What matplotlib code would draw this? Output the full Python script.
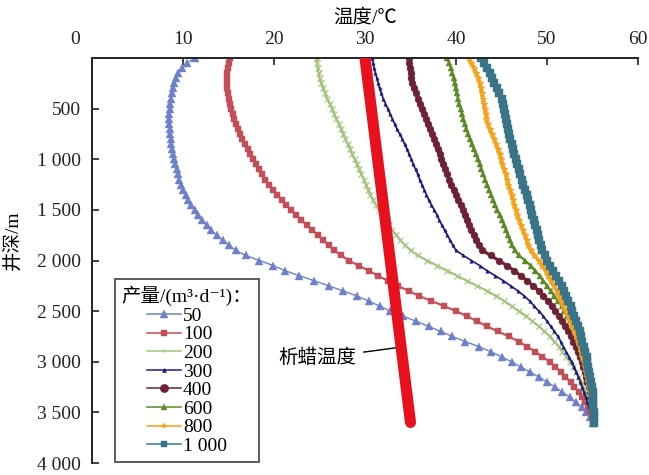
import matplotlib
matplotlib.use("Agg")
import matplotlib.pyplot as plt
from matplotlib.transforms import ScaledTranslation
from matplotlib.ticker import FuncFormatter
from matplotlib.lines import Line2D

plt.rcParams['font.family'] = ['Liberation Serif', 'Noto Sans CJK SC', 'DejaVu Sans']

depth = [0, 50, 100, 150, 200, 250, 300, 350, 400, 450, 500, 550, 600, 650, 700, 750,
         800, 850, 900, 950, 1000, 1050, 1100, 1150, 1200, 1250, 1300, 1350, 1400, 1450,
         1500, 1550, 1600, 1650, 1700, 1750, 1800, 1850, 1900, 1950, 2000, 2050, 2100,
         2150, 2200, 2250, 2300, 2350, 2400, 2450, 2500, 2550, 2600, 2650, 2700, 2750,
         2800, 2850, 2900, 2950, 3000, 3050, 3100, 3150, 3200, 3250, 3300, 3350, 3400,
         3450, 3500, 3550, 3600]

t50 = [11.3, 10.4, 9.9, 9.5, 9.2, 9.0, 8.85, 8.75, 8.65, 8.6, 8.55, 8.5, 8.5, 8.5, 8.55,
       8.6, 8.65, 8.7, 8.8, 8.9, 9.0, 9.1, 9.3, 9.45, 9.6, 9.8, 10.05, 10.3, 10.6, 10.9,
       11.3, 11.7, 12.1, 12.6, 13.1, 13.7, 14.4, 15.1, 15.8, 16.9, 18.4, 19.9, 21.2, 22.8,
       24.4, 26.0, 27.6, 29.1, 30.4, 31.6, 32.8, 34.2, 35.6, 37.0, 38.3, 39.6, 41.0, 42.5,
       43.8, 45.0, 46.1, 47.1, 48.1, 49.1, 50.0, 50.9, 51.7, 52.5, 53.2, 53.8, 54.3, 54.7,
       55.1]
t100 = [15.2, 15.0, 14.9, 14.8, 14.8, 14.8, 14.85, 14.9, 15.0, 15.15, 15.3, 15.45, 15.6,
        15.8, 16.0, 16.25, 16.5, 16.8, 17.1, 17.4, 17.7, 18.0, 18.35, 18.7, 19.05, 19.45,
        19.9, 20.35, 20.85, 21.35, 21.9, 22.45, 23.0, 23.6, 24.2, 24.8, 25.4, 26.0, 26.6,
        27.4, 28.2, 29.3, 30.4, 31.4, 32.5, 33.6, 34.8, 35.95, 37.3, 38.7, 40.0, 41.2, 42.3,
        43.4, 44.6, 45.8, 46.9, 47.8, 48.7, 49.5, 50.3, 50.9, 51.5, 52.0, 52.6, 53.0, 53.5,
        53.9, 54.2, 54.5, 54.75, 54.95, 55.1]
t200 = [24.7, 24.75, 24.8, 24.9, 25.0, 25.2, 25.4, 25.6, 25.85, 26.1, 26.35, 26.6, 26.85,
        27.1, 27.35, 27.6, 27.85, 28.1, 28.35, 28.6, 28.85, 29.1, 29.35, 29.6, 29.85, 30.1,
        30.35, 30.6, 30.9, 31.2, 31.5, 31.85, 32.2, 32.6, 33.0, 33.45, 33.9, 34.4, 35.0,
        35.8, 36.8, 37.9, 39.0, 40.1, 41.2, 42.3, 43.4, 44.4, 45.3, 46.1, 46.9, 47.7, 48.4,
        49.1, 49.7, 50.3, 50.8, 51.3, 51.7, 52.1, 52.5, 52.9, 53.2, 53.5, 53.8, 54.0, 54.2,
        54.4, 54.6, 54.75, 54.9, 55.0, 55.1]
t300 = [30.8, 30.9, 31.0, 31.15, 31.3, 31.45, 31.6, 31.8, 32.0, 32.25, 32.5, 32.75, 33.0,
        33.25, 33.5, 33.8, 34.1, 34.35, 34.6, 34.85, 35.1, 35.3, 35.55, 35.8, 36.0, 36.25,
        36.5, 36.75, 37.0, 37.3, 37.6, 37.9, 38.15, 38.45, 38.75, 39.05, 39.35, 39.65, 40.0,
        40.8, 41.7, 42.6, 43.4, 44.3, 45.2, 46.0, 46.8, 47.5, 48.1, 48.6, 49.1, 49.6, 50.0,
        50.4, 50.8, 51.2, 51.5, 51.8, 52.1, 52.4, 52.7, 52.95, 53.2, 53.45, 53.65, 53.85,
        54.05, 54.25, 54.45, 54.6, 54.8, 54.95, 55.1]
t400 = [34.8, 34.85, 34.9, 35.0, 35.1, 35.2, 35.35, 35.55, 35.8, 36.0, 36.25, 36.45, 36.7,
        36.9, 37.1, 37.35, 37.55, 37.8, 38.0, 38.2, 38.4, 38.6, 38.8, 39.05, 39.25, 39.5,
        39.75, 40.0, 40.25, 40.5, 40.75, 41.0, 41.2, 41.45, 41.7, 41.95, 42.2, 42.5, 42.9,
        43.8, 44.7, 45.6, 46.4, 47.1, 47.8, 48.5, 49.1, 49.6, 50.1, 50.5, 50.9, 51.3, 51.7,
        52.0, 52.3, 52.6, 52.9, 53.15, 53.4, 53.6, 53.8, 54.0, 54.15, 54.3, 54.45, 54.6,
        54.7, 54.8, 54.9, 54.95, 55.0, 55.05, 55.1]
t600 = [39.0, 39.25, 39.45, 39.6, 39.75, 39.85, 39.95, 40.1, 40.2, 40.35, 40.5, 40.65, 40.8,
        40.95, 41.15, 41.35, 41.55, 41.75, 41.95, 42.2, 42.4, 42.6, 42.8, 43.0, 43.2, 43.45,
        43.65, 43.85, 44.1, 44.3, 44.55, 44.8, 45.05, 45.3, 45.5, 45.7, 45.9, 46.15, 46.45,
        46.9, 47.6, 48.2, 48.7, 49.2, 49.6, 50.0, 50.4, 50.8, 51.2, 51.6, 51.9, 52.2, 52.5,
        52.8, 53.05, 53.3, 53.5, 53.7, 53.85, 54.0, 54.15, 54.3, 54.45, 54.55, 54.65, 54.75,
        54.85, 54.9, 54.95, 55.0, 55.05, 55.1, 55.1]
t800 = [41.4, 41.7, 42.0, 42.25, 42.45, 42.6, 42.75, 42.85, 42.95, 43.05, 43.15, 43.25,
        43.35, 43.5, 43.7, 43.95, 44.2, 44.4, 44.6, 44.8, 44.95, 45.1, 45.3, 45.45, 45.6,
        45.75, 45.95, 46.1, 46.25, 46.4, 46.6, 46.75, 46.95, 47.15, 47.35, 47.55, 47.75,
        47.95, 48.2, 48.6, 49.1, 49.5, 49.85, 50.15, 50.45, 50.75, 51.05, 51.3, 51.55, 51.8,
        52.05, 52.3, 52.55, 52.8, 53.0, 53.2, 53.4, 53.6, 53.75, 53.9, 54.05, 54.2, 54.3,
        54.45, 54.55, 54.65, 54.75, 54.85, 54.9, 54.95, 55.0, 55.05, 55.1]
t1000 = [42.8, 43.1, 43.4, 43.7, 43.95, 44.2, 44.5, 44.75, 45.0, 45.15, 45.3, 45.4, 45.5,
         45.6, 45.7, 45.8, 45.95, 46.1, 46.25, 46.4, 46.55, 46.7, 46.9, 47.05, 47.25, 47.4,
         47.55, 47.75, 47.9, 48.1, 48.25, 48.4, 48.55, 48.7, 48.85, 49.0, 49.15, 49.3, 49.5,
         49.75, 50.05, 50.35, 50.7, 51.0, 51.3, 51.6, 51.85, 52.1, 52.35, 52.6, 52.8, 53.0,
         53.2, 53.4, 53.6, 53.75, 53.9, 54.05, 54.2, 54.35, 54.45, 54.55, 54.65, 54.75,
         54.85, 54.95, 55.0, 55.05, 55.1, 55.1, 55.15, 55.15, 55.2]

wax_depth = [0, 3600]
wax_temp = [30, 35]

labels = ['50', '100', '200', '300', '400', '600', '800', '1 000']
series = [t50, t100, t200, t300, t400, t600, t800, t1000]
colors = ['#6E80CA', '#C44E58', '#A3C27A', '#1A1A7E', '#6C2232', '#5B8A26', '#F6A21C', '#3A7489']
markers = ['^', 's', 'x', '^', 'o', '^', '*', 's']
msizes = [6.0, 5.0, 5.0, 2.5, 5.0, 5.0, 4.5, 5.5]
lwidths = [1.0, 1.5, 1.5, 1.2, 2.2, 1.6, 2.5, 3.0]
leg_msizes = [6, 5, 3, 3, 6, 5, 4, 5]

fig = plt.figure(figsize=(6.49, 4.75), dpi=100)
ax = fig.add_axes([92 / 649, 1 - 463 / 475, 546 / 649, 405 / 475])

handles = []
for t, lab, c, m, ms, lw, lms in zip(series, labels, colors, markers, msizes, lwidths, leg_msizes):
    ax.plot(t, depth, color=c, marker=m, markersize=ms, linewidth=lw,
            markeredgewidth=0.8 if m in ('x', '*') else 0.3, markeredgecolor=c)
    handles.append(Line2D([], [], color=c, marker=m, markersize=lms, linewidth=1.1,
                          markeredgewidth=0.3, markeredgecolor=c, label=lab))

ax.plot(wax_temp, wax_depth, color='#E8101C', linewidth=8, solid_capstyle='round', zorder=5)

ax.annotate('析蜡温度', xy=(33.6, 2860), xytext=(24.8, 2965), textcoords='data',
            fontsize=14, ha='center', va='center',
            arrowprops=dict(arrowstyle='-', color='black', lw=1.0, shrinkA=3, shrinkB=0))

ax.set_xlim(0, 60)
ax.set_ylim(4000, 0)
ax.xaxis.tick_top()
ax.xaxis.set_label_position('top')
ax.set_xticks([0, 10, 20, 30, 40, 50, 60])
ax.set_yticks([500, 1000, 1500, 2000, 2500, 3000, 3500, 4000])
ax.yaxis.set_major_formatter(FuncFormatter(lambda v, p: f"{int(v):,}".replace(',', ' ')))
ax.tick_params(axis='both', direction='in', length=5, width=1.2, labelsize=14, colors='#222222')
ax.tick_params(axis='x', pad=7)
ax.tick_params(axis='y', pad=8)
for s in ['right', 'bottom']:
    ax.spines[s].set_visible(False)
for s in ['left', 'top']:
    ax.spines[s].set_linewidth(1.4)
    ax.spines[s].set_color('#222222')

ax.set_xlabel('温度/℃', fontsize=14, labelpad=6)
ax.set_ylabel('井深/m', fontsize=14)
ax.yaxis.set_label_coords(-0.128, 0.55)

fig.canvas.draw()
lbl0 = ax.get_xticklabels()[0]
lbl0.set_transform(lbl0.get_transform() + ScaledTranslation(-17 / 100, 0, fig.dpi_scale_trans))

leg = ax.legend(handles=handles, title='产量/(m³·d⁻¹)：', loc='lower left',
                bbox_to_anchor=(0.042, 0.003), borderaxespad=0, fontsize=14,
                title_fontsize=14, frameon=True, fancybox=False, edgecolor='#222222',
                labelspacing=0.05, handlelength=1.75, handletextpad=0.1, borderpad=0.35)
leg.get_frame().set_linewidth(1.3)

fig.savefig('out.png', dpi=100)
